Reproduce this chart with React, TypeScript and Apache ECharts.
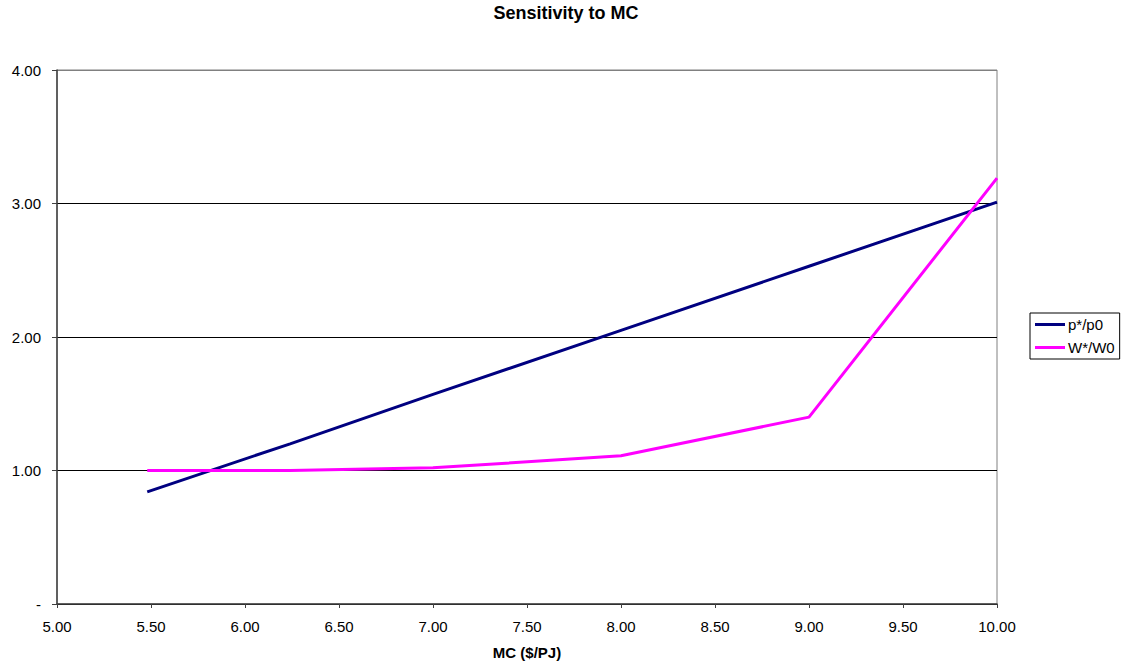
import React, { useEffect, useRef } from "react";
import * as echarts from "echarts";

const mcValues = [5.48, 6.24, 7.0, 8.0, 9.0, 10.0];
const pRatio = [0.84, 1.2, 1.57, 2.05, 2.53, 3.01];
const wRatio = [1.0, 1.0, 1.02, 1.11, 1.4, 3.19];
const seriesNames = ["p*/p0", "W*/W0"];
const titleText = "Sensitivity to MC";
const xAxisName = "MC ($/PJ)";

export default function App() {
  const ref = useRef<HTMLDivElement>(null);
  useEffect(() => {
    if (!ref.current) return;
    const chart = echarts.init(ref.current, null, { renderer: "svg" });
    const font = "'Liberation Sans', Arial, sans-serif";
    chart.setOption({
      animation: false,
      backgroundColor: "#fff",
      textStyle: { fontFamily: font, color: "#000" },
      title: {
        text: titleText,
        left: "center",
        top: 4,
        padding: 0,
        textStyle: { fontFamily: font, fontSize: 18, fontWeight: "bold", color: "#000" },
      },
      grid: {
        left: 57,
        right: 135,
        top: 70,
        bottom: 61,
        containLabel: false,
        outerBoundsMode: "none",
        show: true,
        borderColor: "#808080",
        borderWidth: 1,
        backgroundColor: "#fff",
      },
      legend: {
        orient: "vertical",
        left: 1030,
        top: 313,
        padding: [4, 5, 4, 5],
        itemGap: 8,
        itemWidth: 30,
        itemHeight: 15,
        borderColor: "#000",
        borderWidth: 1,
        textStyle: { fontFamily: font, fontSize: 15, color: "#000", padding: [0, 0, 0, -2] },
        data: seriesNames.map((n) => ({ name: n, icon: "path://M0,0 L30,0 L30,3 L0,3 Z" })),
      },
      xAxis: {
        type: "value",
        min: 5,
        max: 10,
        interval: 0.5,
        name: xAxisName,
        nameLocation: "middle",
        nameGap: 41,
        nameTextStyle: { fontFamily: font, fontSize: 15, fontWeight: "bold", color: "#000" },
        axisLine: { show: true, lineStyle: { color: "#404040", width: 1.5 } },
        axisTick: { show: true, inside: false, length: 4, lineStyle: { color: "#404040" } },
        axisLabel: {
          fontFamily: font,
          fontSize: 15,
          color: "#000",
          margin: 15,
          formatter: (v: number) => v.toFixed(2),
        },
        splitLine: { show: false },
      },
      yAxis: {
        type: "value",
        min: 0,
        max: 4,
        interval: 1,
        axisLine: { show: true, lineStyle: { color: "#404040", width: 1.5 } },
        axisTick: { show: true, inside: false, length: 5, lineStyle: { color: "#404040" } },
        axisLabel: {
          fontFamily: font,
          fontSize: 15,
          color: "#000",
          margin: 16,
          formatter: (v: number) => (v === 0 ? "-" : v.toFixed(2)),
        },
        splitLine: {
          show: true,
          lineStyle: { color: ["#000", "#000", "#000", "#000", "#808080"], width: 1 },
        },
      },
      series: [
        {
          name: seriesNames[0],
          type: "line",
          data: mcValues.map((x, i) => [x, pRatio[i]]),
          showSymbol: false,
          symbol: "none",
          lineStyle: { color: "#000080", width: 3 },
          itemStyle: { color: "#000080" },
        },
        {
          name: seriesNames[1],
          type: "line",
          data: mcValues.map((x, i) => [x, wRatio[i]]),
          showSymbol: false,
          symbol: "none",
          lineStyle: { color: "#ff00ff", width: 3 },
          itemStyle: { color: "#ff00ff" },
        },
      ],
    });
    return () => chart.dispose();
  }, []);
  return <div ref={ref} style={{ width: 1132, height: 665, position: "absolute", left: 0, top: 0 }} />;
}
